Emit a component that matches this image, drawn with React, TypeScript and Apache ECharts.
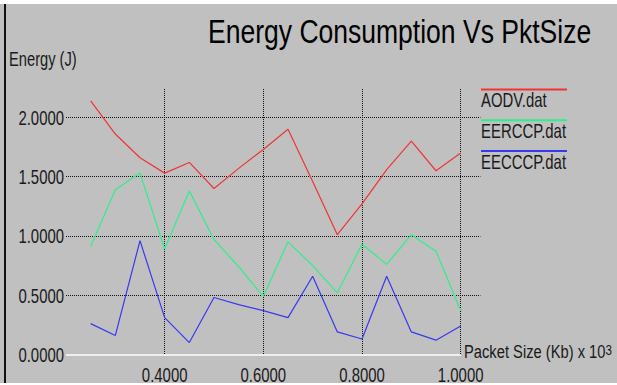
import React, { useEffect, useRef } from "react";
import * as echarts from "echarts";

// ---- data ----
const packetSizes = [0.25, 0.3, 0.35, 0.4, 0.45, 0.5, 0.55, 0.6, 0.65, 0.7, 0.75, 0.8, 0.85, 0.9, 0.95, 1.0];
const aodv = [2.14, 1.86, 1.66, 1.53, 1.62, 1.40, 1.57, 1.73, 1.90, 1.46, 1.01, 1.27, 1.56, 1.80, 1.55, 1.70];
const eerccp = [0.91, 1.39, 1.53, 0.89, 1.38, 0.97, 0.74, 0.49, 0.95, 0.75, 0.52, 0.93, 0.76, 1.01, 0.87, 0.37];
const eecccp = [0.26, 0.16, 0.96, 0.31, 0.10, 0.48, 0.42, 0.37, 0.31, 0.66, 0.19, 0.13, 0.66, 0.19, 0.12, 0.24];

const seriesNames = ["AODV.dat", "EERCCP.dat", "EECCCP.dat"];
const seriesColors = ["#f03434", "#2cf08c", "#3838f0"];
const seriesData = [aodv, eerccp, eecccp];

const xTickValues = [0.4, 0.6, 0.8, 1.0];
const yTickValues = [0, 0.5, 1.0, 1.5, 2.0];
const xTickLabels = ["0.4000", "0.6000", "0.8000", "1.0000"];
const yTickLabels = ["0.0000", "0.5000", "1.0000", "1.5000", "2.0000"];

const titleText = "Energy Consumption Vs PktSize";
const yAxisTitle = "Energy (J)";
const xAxisTitle = "Packet Size (Kb) x 10";
const xAxisExponent = "3";

const FONT = "'Liberation Sans', Arial, sans-serif";
const TEXT_COLOR = "#1a1a1a";

export default function App() {
  const ref = useRef<HTMLDivElement>(null);

  useEffect(() => {
    if (!ref.current) return;
    const chart = echarts.init(ref.current, undefined, { renderer: "svg" });

    const legendGraphics: any[] = [];
    seriesNames.forEach((name, i) => {
      const ly = 89.5 + i * 30.7;
      legendGraphics.push({
        type: "rect",
        shape: { x: 481, y: ly - 1, width: 86, height: 2 },
        style: { fill: seriesColors[i] },
        silent: true,
      });
      legendGraphics.push({
        type: "text",
        x: 481,
        y: ly + 11,
        scaleX: 0.71,
        style: {
          text: name,
          font: `21px ${FONT}`,
          fill: TEXT_COLOR,
          align: "left",
          verticalAlign: "middle",
        },
        silent: true,
      });
    });

    const baseGraphics: any[] = [
      { type: "rect", shape: { x: 0, y: 0, width: 617, height: 4 }, style: { fill: "#ffffff" }, silent: true },
      { type: "rect", shape: { x: 0, y: 383, width: 617, height: 2 }, style: { fill: "#ffffff" }, silent: true },
      { type: "rect", shape: { x: 4, y: 4, width: 2, height: 379 }, style: { fill: "#111111" }, silent: true },
      {
        type: "text",
        x: 208,
        y: 31,
        scaleX: 0.78,
        style: { text: titleText, font: `34px ${FONT}`, fill: "#000", align: "left", verticalAlign: "middle" },
        silent: true,
      },
      {
        type: "text",
        x: 9,
        y: 59,
        scaleX: 0.7,
        style: { text: yAxisTitle, font: `21px ${FONT}`, fill: TEXT_COLOR, align: "left", verticalAlign: "middle" },
        silent: true,
      },
      {
        type: "text",
        x: 464,
        y: 352,
        scaleX: 0.775,
        style: {
          text: `${xAxisTitle}{sup|${xAxisExponent}}`,
          font: `19px ${FONT}`,
          fill: TEXT_COLOR,
          align: "left",
          verticalAlign: "middle",
          rich: {
            sup: { fontSize: 15, fontFamily: FONT, verticalAlign: "top", lineHeight: 12, fill: TEXT_COLOR },
          },
        },
        silent: true,
      },
      ...legendGraphics,
    ];

    const option: any = {
      animation: false,
      backgroundColor: "#c0c0c0",
      grid: { left: 66, top: 89, width: 414.4, height: 265.4 },
      xAxis: {
        type: "value",
        min: 0.2,
        max: 1.04,
        interval: 0.2,
        axisLine: { show: false },
        axisTick: { show: false },
        axisLabel: { show: false },
        splitLine: {
          show: true,
          showMinLine: false,
          showMaxLine: false,
          lineStyle: { color: "#111", width: 1, type: [1, 1] },
        },
      },
      yAxis: {
        type: "value",
        min: 0,
        max: 2.24,
        interval: 0.5,
        axisLine: { show: false },
        axisTick: { show: false },
        axisLabel: { show: false },
        splitLine: {
          show: true,
          showMinLine: false,
          showMaxLine: false,
          lineStyle: { color: "#111", width: 1, type: [1, 1] },
        },
      },
      series: seriesNames.map((name, i) => ({
        name,
        type: "line",
        data: packetSizes.map((x, k) => [x, seriesData[i][k]]),
        showSymbol: false,
        symbol: "none",
        lineStyle: { color: seriesColors[i], width: 1.2 },
        itemStyle: { color: seriesColors[i] },
        z: 3,
        markLine:
          i === 0
            ? {
                silent: true,
                symbol: ["none", "none"],
                label: { show: false },
                lineStyle: { color: "#ffffff", width: 1.5, type: "solid" },
                data: [[{ coord: [0.2, 0] }, { coord: [xTickValues[xTickValues.length - 1], 0] }]],
                z: 1,
              }
            : undefined,
      })),
      graphic: baseGraphics,
    };

    chart.setOption(option);

    // Tick labels placed at the positions the axes compute (condensed like the original)
    const labelGraphics: any[] = [];
    yTickValues.forEach((v, i) => {
      const p = chart.convertToPixel({ xAxisIndex: 0, yAxisIndex: 0 }, [0.2, v]) as number[];
      labelGraphics.push({
        type: "text",
        x: p[0] - 2,
        y: p[1] + 0.5,
        scaleX: 0.71,
        style: { text: yTickLabels[i], font: `21px ${FONT}`, fill: TEXT_COLOR, align: "right", verticalAlign: "middle" },
        silent: true,
      });
    });
    xTickValues.forEach((v, i) => {
      const p = chart.convertToPixel({ xAxisIndex: 0, yAxisIndex: 0 }, [v, 0]) as number[];
      labelGraphics.push({
        type: "text",
        x: p[0],
        y: p[1] + 20.5,
        scaleX: 0.71,
        style: { text: xTickLabels[i], font: `21px ${FONT}`, fill: TEXT_COLOR, align: "center", verticalAlign: "middle" },
        silent: true,
      });
    });
    chart.setOption({ graphic: [...baseGraphics, ...labelGraphics] });

    return () => chart.dispose();
  }, []);

  return <div ref={ref} style={{ position: "fixed", left: 0, top: 0, width: 617, height: 385 }} />;
}
